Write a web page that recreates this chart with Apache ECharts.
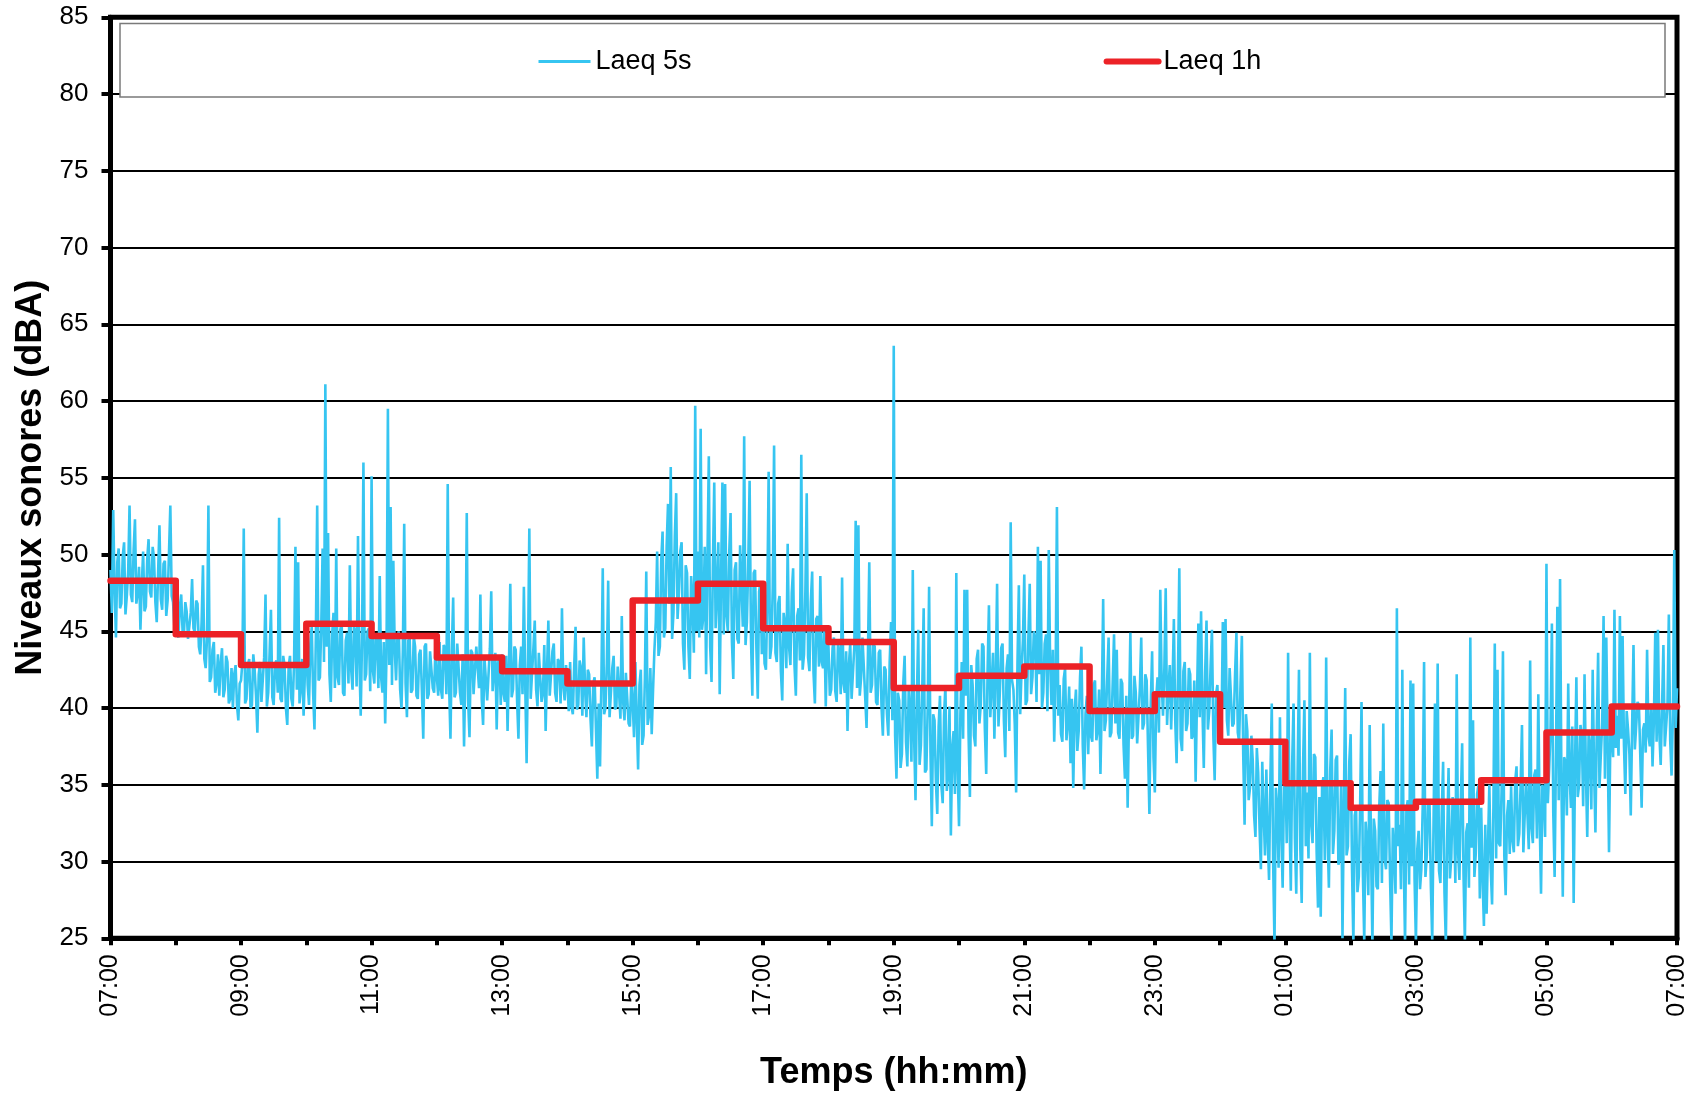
<!DOCTYPE html>
<html>
<head>
<meta charset="utf-8">
<script src="https://cdn.jsdelivr.net/npm/echarts@6/dist/echarts.min.js"></script>
<style>
  html, body { margin: 0; padding: 0; background: #fff; }
  #chart { width: 1697px; height: 1094px; }
</style>
</head>
<body>
<div id="chart"></div>
<script>
// Hour tick labels along the time axis (one tick per hour, label every two hours)
const xTickLabels = ['07:00','','09:00','','11:00','','13:00','','15:00','','17:00','','19:00','','21:00','','23:00','','01:00','','03:00','','05:00','','07:00'];

// Hourly equivalent level, dBA (07:00 -> 07:00)
const laeq1h = [48.3, 44.8, 42.8, 45.5, 44.7, 43.3, 42.4, 41.6, 47.0, 48.1, 45.2, 44.3,
                41.3, 42.1, 42.7, 39.8, 40.9, 37.8, 35.1, 33.5, 33.9, 35.3, 38.4, 40.1];

// Short-term level, dBA, 48 readings per hour; the last value closes the day at 07:00
const samplesPerHour = 48;
const laeq5s = [
  // 07h
  49.0,46.2,52.9,47.8,44.6,49.5,50.4,46.5,46.8,49.9,50.8,46.1,47.3,48.9,53.2,47.4,46.9,50.3,52.3,46.8,47.5,49.2,45.1,48.0,
  50.2,46.3,46.6,49.7,51.0,47.6,47.2,50.5,49.8,46.9,45.6,48.8,51.9,47.1,46.4,49.4,49.6,46.0,47.0,50.1,53.2,47.3,46.9,45.2,
  // 08h
  46.9,44.8,44.6,46.6,47.4,45.0,44.8,46.9,46.3,44.5,44.4,46.2,48.4,45.2,44.9,47.0,46.8,44.0,43.5,45.6,49.3,43.2,42.6,44.6,
  53.2,41.7,42.0,43.8,44.3,41.0,41.6,43.5,40.8,42.9,43.9,40.7,41.2,43.4,43.0,40.3,40.6,42.6,40.0,42.2,42.8,40.2,39.2,41.6,
  // 09h
  41.8,43.0,51.7,40.3,40.6,42.8,43.2,40.0,40.2,43.5,42.5,40.8,38.4,42.2,43.0,40.4,40.5,43.3,47.4,40.1,41.0,43.6,46.4,40.7,
  40.2,42.9,43.1,41.0,52.4,40.6,40.4,43.4,42.8,40.0,38.9,42.7,43.4,40.6,40.1,43.0,50.5,41.2,49.5,40.3,41.3,43.2,39.5,42.4,
  // 10h
  44.8,41.5,40.2,44.2,45.3,41.0,38.6,44.6,53.2,41.8,42.0,45.4,50.4,43.0,61.1,44.0,51.4,42.2,40.4,44.8,46.2,41.3,50.4,42.0,
  41.5,45.1,45.6,41.0,40.8,44.4,44.9,41.6,49.3,42.5,41.2,45.3,45.0,41.4,51.2,43.2,39.5,44.5,56.0,41.8,42.2,45.0,45.2,41.1,
  // 11h
  55.1,42.4,41.6,44.8,44.5,41.3,48.6,42.0,41.0,44.3,39.0,43.6,59.5,42.8,53.1,41.5,49.6,43.9,41.8,44.6,45.0,41.2,40.0,43.8,
  52.0,41.6,39.4,44.4,44.6,41.0,41.2,44.7,44.0,40.8,40.6,43.5,43.8,41.1,38.0,44.0,44.2,40.6,40.9,43.7,43.6,41.3,41.0,44.1,
  // 12h
  42.0,40.8,44.3,41.2,40.6,44.1,43.9,40.9,54.6,41.5,38.0,43.8,47.2,40.7,41.0,44.2,44.2,41.0,40.2,43.5,37.5,42.6,52.7,40.5,
  38.1,43.8,43.6,40.9,40.8,44.0,44.0,41.3,47.4,40.6,38.9,43.3,43.2,40.5,40.4,43.9,47.6,41.1,41.2,43.6,38.6,42.9,43.4,40.2,
  // 13h
  43.5,41.0,40.4,43.4,38.5,42.6,48.1,40.7,41.2,44.0,43.8,40.5,38.0,42.8,44.0,40.9,47.9,41.5,36.4,43.1,51.7,40.6,40.6,43.9,
  45.7,41.2,40.1,43.6,43.7,40.4,41.0,44.1,38.5,42.4,45.7,40.8,40.8,43.7,44.2,41.0,40.4,43.2,43.0,40.3,46.5,41.4,40.5,42.8,
  // 14h
  41.5,39.8,43.0,40.1,39.6,42.7,45.3,39.9,40.2,43.1,42.6,39.5,44.6,41.2,39.4,42.5,42.2,39.3,37.5,41.6,42.0,38.6,35.4,40.3,
  36.2,41.8,49.1,39.6,40.0,42.9,48.3,39.4,39.5,42.6,43.4,39.9,40.1,42.7,42.8,39.3,46.0,40.4,39.2,42.3,42.4,39.0,38.8,41.9,
  // 15h
  40.4,38.1,43.0,39.4,36.0,41.5,42.5,37.6,38.2,42.0,48.9,38.9,39.5,42.6,38.3,41.2,43.8,45.6,50.2,43.4,44.0,49.6,51.5,44.6,
  45.2,50.6,53.3,46.8,55.7,44.5,46.2,51.2,54.0,45.8,47.5,50.2,50.8,44.2,42.5,49.3,48.8,44.0,41.9,48.6,47.0,43.6,59.7,45.0,
  // 16h
  50.2,44.6,58.2,45.1,46.0,50.5,42.2,49.8,56.4,44.0,41.7,49.3,54.7,45.2,47.5,50.8,40.9,48.4,54.7,44.8,54.6,46.0,45.0,50.1,
  52.7,44.3,41.9,49.0,49.5,44.5,44.2,50.6,50.5,45.3,57.7,44.1,45.6,49.4,54.8,44.6,40.8,48.8,49.0,43.9,40.6,47.6,48.2,43.5,
  // 17h
  46.0,42.9,42.5,47.0,55.4,43.2,44.0,47.8,57.1,43.6,43.0,46.8,47.3,42.4,40.5,46.2,45.5,42.6,50.7,44.0,42.8,47.5,49.1,42.8,
  40.8,46.0,46.5,43.1,56.5,42.5,43.5,47.6,54.0,43.3,42.4,46.9,48.9,42.3,40.3,45.8,46.0,42.7,48.6,43.0,42.6,45.2,40.1,44.6,
  // 18h
  44.0,40.8,41.2,43.9,44.6,41.1,40.4,44.3,43.5,40.9,48.5,41.6,41.0,43.7,38.5,42.8,44.2,40.6,40.6,44.0,52.2,41.3,51.9,40.8,
  42.0,44.6,44.5,40.7,38.7,43.4,49.5,41.0,41.5,44.2,44.0,40.4,40.2,43.6,43.8,40.1,38.2,42.7,42.5,39.6,38.2,43.0,45.6,39.2,
  // 19h
  63.6,38.2,35.4,41.0,40.5,36.1,37.0,41.6,43.4,37.8,36.2,41.2,39.8,36.5,49.0,38.0,34.0,40.6,45.1,36.3,37.6,41.4,46.5,35.8,
  36.0,40.2,47.9,37.1,32.3,39.6,39.2,35.2,33.1,38.8,40.8,35.0,33.8,39.5,41.5,34.6,35.6,40.1,31.7,37.4,38.5,34.4,48.8,36.0,
  // 20h
  32.3,39.6,43.0,38.0,47.7,40.8,47.7,38.4,34.2,42.8,41.5,38.2,37.5,43.2,43.8,39.0,40.2,44.2,44.0,38.6,35.7,42.4,46.7,39.4,
  39.5,43.6,38.0,42.0,48.1,38.8,41.0,43.9,44.2,39.2,36.8,42.6,43.5,38.5,52.1,41.8,41.2,38.9,34.5,43.0,48.0,39.6,42.5,44.4,
  // 21h
  48.7,40.2,40.5,44.6,48.1,40.9,42.0,45.0,44.5,40.4,50.5,42.2,49.6,40.0,41.0,44.2,44.8,39.8,50.3,42.9,40.2,43.8,37.8,41.6,
  53.1,39.5,41.5,38.3,37.8,41.9,42.6,37.9,39.0,41.4,36.4,40.6,34.8,39.8,41.2,37.2,38.5,42.0,44.0,37.6,34.7,39.6,40.8,37.0,
  // 22h
  40.5,38.2,37.8,41.5,41.8,37.9,38.6,41.2,35.7,40.4,47.1,38.5,39.2,42.0,44.6,38.1,38.4,41.6,44.8,39.0,43.8,38.4,38.0,41.9,
  41.6,37.6,35.4,40.8,33.5,39.4,44.9,38.0,38.2,42.1,41.0,37.7,37.6,41.3,44.6,38.6,39.0,42.2,41.8,37.4,33.1,40.2,43.7,36.8,
  // 23h
  34.5,40.6,42.0,38.4,47.7,41.8,39.5,42.6,47.8,38.9,41.2,42.8,38.6,41.5,45.8,39.2,36.4,42.0,49.1,38.0,37.2,42.4,43.0,38.5,
  39.0,42.6,42.2,38.0,38.2,41.8,35.2,40.6,45.5,39.4,46.3,40.0,36.1,42.3,45.7,38.6,39.8,42.7,45.1,38.3,35.3,40.9,41.5,38.8,
  // 00h
  41.0,38.5,45.6,40.0,45.8,39.2,38.2,42.6,42.5,38.8,39.0,42.2,44.9,38.4,37.8,41.5,44.7,37.0,32.4,39.6,38.5,34.0,34.8,38.2,
  36.6,33.0,31.6,37.4,35.8,32.2,29.5,36.5,33.2,30.4,36.0,31.5,28.8,35.6,40.3,30.0,24.6,34.8,33.5,29.6,39.4,31.8,28.3,35.2,
  // 01h
  36.0,31.2,43.6,33.0,28.1,36.4,40.3,31.5,27.9,35.8,42.5,30.8,27.3,36.2,40.5,31.0,34.5,30.2,43.6,32.4,31.2,37.0,36.8,30.6,
  27.0,34.2,26.4,35.0,35.5,30.1,43.3,31.8,28.3,36.0,38.6,30.5,32.0,36.6,36.9,29.8,30.2,35.2,25.0,33.6,41.3,30.4,31.0,36.5,
  // 02h
  38.3,29.6,24.7,33.0,33.5,28.0,29.0,33.8,40.4,29.2,24.8,32.6,31.2,27.8,38.9,30.8,24.6,32.8,32.0,28.4,28.2,33.5,35.9,28.6,
  39.0,30.2,29.5,34.0,33.8,28.8,24.8,32.2,30.6,27.9,46.5,31.0,32.4,28.2,42.5,30.4,24.7,33.4,34.0,28.5,41.8,29.7,41.6,28.9,
  // 03h
  24.7,30.8,32.0,28.2,29.5,33.6,43.0,29.0,30.4,34.0,33.8,28.4,24.8,32.8,40.3,30.0,42.9,29.4,28.6,33.2,36.5,28.0,24.7,31.6,
  36.1,28.9,30.2,34.2,33.2,28.6,42.2,30.6,28.8,33.9,37.7,29.2,24.8,31.9,32.5,28.3,44.6,30.9,39.2,29.0,30.5,34.4,35.0,27.6,
  // 04h
  33.5,29.0,25.8,32.4,26.6,31.0,35.0,29.6,27.2,33.6,44.2,30.2,42.5,31.2,31.0,34.6,43.7,30.4,27.8,33.0,34.0,30.5,34.9,31.4,
  30.6,35.2,36.2,31.0,31.8,35.0,38.9,30.6,33.0,35.4,35.5,30.8,43.1,32.2,31.2,35.6,36.0,31.5,40.9,32.8,27.9,35.0,34.5,31.6,
  // 05h
  49.4,33.8,36.0,38.6,45.5,33.2,29.0,37.0,46.6,34.0,48.4,35.2,27.7,36.8,36.5,33.0,41.6,35.6,33.5,38.8,27.3,36.2,42.0,34.2,
  35.0,38.9,38.2,33.6,42.2,35.8,31.6,38.4,37.5,33.4,42.5,36.0,31.9,38.6,43.6,34.8,37.0,39.0,46.0,35.4,44.6,37.8,30.6,38.2,
  // 06h
  38.5,36.8,46.4,37.4,39.5,36.9,46.0,38.0,44.7,37.6,34.4,39.8,38.6,37.0,33.0,38.8,44.1,37.3,37.2,40.4,40.2,36.9,33.5,38.6,
  39.0,37.1,43.8,38.2,37.5,40.3,36.2,39.2,44.9,37.8,45.1,38.4,36.3,40.0,44.1,37.5,38.8,40.2,46.1,37.9,35.6,39.6,50.3,38.7,
  // 07h
  41.3
];

const FONT = "'Liberation Sans', Arial, sans-serif";
const BLUE = '#36C5F1';
const RED = '#EC2227';

const shortData = laeq5s.map((v, i) => [i / samplesPerHour, v]);
const hourlyData = laeq1h.map((v, i) => [i, v]).concat([[laeq1h.length, laeq1h[laeq1h.length - 1]]]);

const chart = echarts.init(document.getElementById('chart'), null, { renderer: 'canvas' });

chart.setOption({
  animation: false,
  backgroundColor: '#fff',
  textStyle: { fontFamily: FONT },
  grid: {
    left: 110.5, right: 20, top: 17.3, bottom: 155.7,
    show: true, borderColor: '#000', borderWidth: 5, backgroundColor: 'transparent',
    containLabel: false, outerBoundsMode: 'none'
  },
  xAxis: {
    type: 'value', min: 0, max: 24, interval: 1,
    axisLine: { show: true, onZero: false, lineStyle: { color: '#000', width: 5 } },
    axisTick: { show: true, inside: false, length: 7, lineStyle: { color: '#000', width: 4 } },
    splitLine: { show: false },
    axisLabel: {
      rotate: 90, fontSize: 25, color: '#000', fontFamily: FONT, margin: 16,
      formatter: v => xTickLabels[Math.round(v)] || ''
    },
    name: 'Temps (hh:mm)', nameLocation: 'middle', nameGap: 117,
    nameTextStyle: { fontSize: 36, fontWeight: 'bold', color: '#000', fontFamily: FONT }
  },
  yAxis: {
    type: 'value', min: 25, max: 85, interval: 5,
    axisLine: { show: true, lineStyle: { color: '#000', width: 5 } },
    axisTick: { show: true, inside: false, length: 9, lineStyle: { color: '#000', width: 4 } },
    splitLine: { show: true, lineStyle: { color: '#000', width: 2 } },
    axisLabel: { fontSize: 26, color: '#000', fontFamily: FONT, margin: 22 },
    name: 'Niveaux sonores (dBA)', nameLocation: 'middle', nameGap: 60,
    nameTextStyle: { fontSize: 36, fontWeight: 'bold', color: '#000', fontFamily: FONT }
  },
  graphic: [{
    type: 'rect', z: 3,
    shape: { x: 120, y: 23.5, width: 1545, height: 73.5 },
    style: { fill: '#fff', stroke: '#7a7a7a', lineWidth: 1.5 }
  }],
  legend: {
    z: 5, left: 537, top: 48, padding: 0,
    itemWidth: 52, itemHeight: 14, itemGap: 412,
    itemStyle: { opacity: 0 },
    textStyle: { fontSize: 27, color: '#000', fontFamily: FONT },
    data: [
      { name: 'Laeq 5s', lineStyle: { width: 3 } },
      { name: 'Laeq 1h', lineStyle: { width: 6, cap: 'round' } }
    ]
  },
  series: [
    {
      name: 'Laeq 5s', type: 'line', data: shortData,
      symbol: 'none', showSymbol: false, clip: true, z: 2,
      lineStyle: { color: BLUE, width: 2.6 }, itemStyle: { color: BLUE }
    },
    {
      name: 'Laeq 1h', type: 'line', data: hourlyData, step: 'end',
      symbol: 'none', showSymbol: false, clip: true, z: 3,
      lineStyle: { color: RED, width: 6.5, cap: 'round', join: 'round' }, itemStyle: { color: RED }
    }
  ]
});
</script>
</body>
</html>
